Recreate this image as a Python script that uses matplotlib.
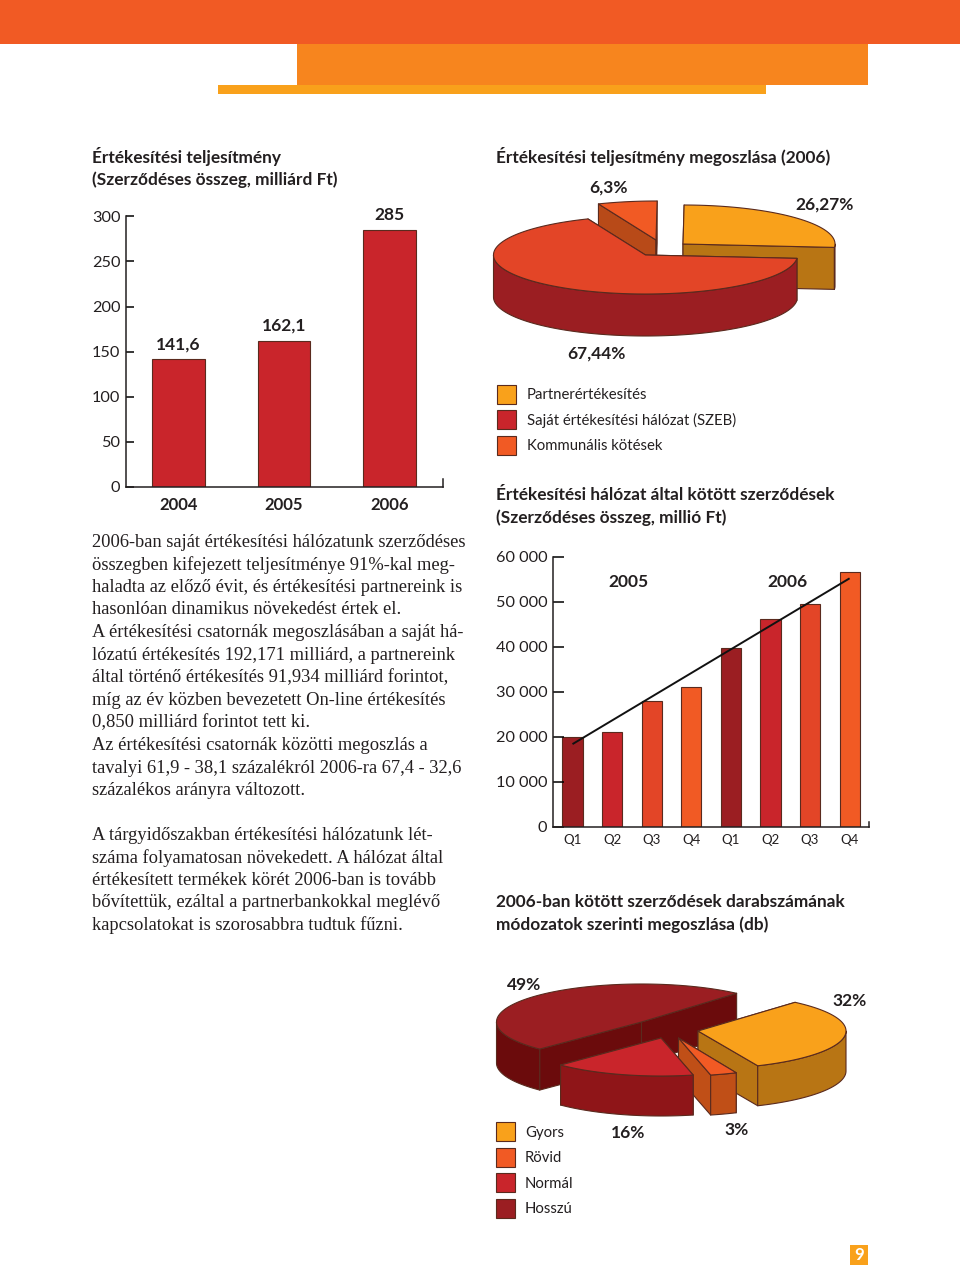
import numpy as np
import matplotlib
matplotlib.use("Agg")
import matplotlib.pyplot as plt
from matplotlib.patches import Polygon, Rectangle

W, H = 960, 1270
DARK = "#231f20"
EDGE = "#5a2a1e"
ORANGE_RED = "#f15a24"
RED_ORANGE = "#e34527"
RED = "#c9252b"
MAROON = "#9b1e22"
AMBER = "#f9a11b"

# sales chart
sales_years = ["2004", "2005", "2006"]
sales_values = [141.6, 162.1, 285]
sales_labels = ["141,6", "162,1", "285"]
sales_ticks = [0, 50, 100, 150, 200, 250, 300]

# contracts chart
quarters = ["Q1", "Q2", "Q3", "Q4", "Q1", "Q2", "Q3", "Q4"]
contract_values = [20000, 21100, 27900, 31100, 39800, 46200, 49600, 56700]
contract_trend = [18400, 55200]
contract_ticks = [0, 10000, 20000, 30000, 40000, 50000, 60000]
contract_tick_labels = ["0", "10 000", "20 000", "30 000", "40 000", "50 000", "60 000"]

# first pie
split_names = ["Partnerértékesítés", "Saját értékesítési hálózat (SZEB)", "Kommunális kötések"]
split_shares = [26.27, 6.3, 67.44]
split_labels = ["26,27%", "6,3%", "67,44%"]

# second pie
type_names = ["Gyors", "Rövid", "Normál", "Hosszú"]
type_shares = [49, 16, 3, 32]
type_labels = ["49%", "16%", "3%", "32%"]

left_text = [
    (541, "2006-ban saját értékesítési hálózatunk szerződéses"),
    (563.5, "összegben kifejezett teljesítménye 91%-kal meg-"),
    (586, "haladta az előző évit, és értékesítési partnereink is"),
    (608, "hasonlóan dinamikus növekedést értek el."),
    (631, "A értékesítési csatornák megoszlásában a saját há-"),
    (653.5, "lózatú értékesítés 192,171 milliárd, a partnereink"),
    (676, "által történő értékesítés 91,934 milliárd forintot,"),
    (699, "míg az év közben bevezetett On-line értékesítés"),
    (721, "0,850 milliárd forintot tett ki."),
    (744, "Az értékesítési csatornák közötti megoszlás a"),
    (767, "tavalyi 61,9 - 38,1 százalékról 2006-ra 67,4 - 32,6"),
    (789, "százalékos arányra változott."),
    (834, "A tárgyidőszakban értékesítési hálózatunk lét-"),
    (857, "száma folyamatosan növekedett. A hálózat által"),
    (879, "értékesített termékek körét 2006-ban is tovább"),
    (901, "bővítettük, ezáltal a partnerbankokkal meglévő"),
    (924, "kapcsolatokat is szorosabbra tudtuk fűzni."),
]

headings = [
    (92, 157, "Értékesítési teljesítmény"),
    (92, 180, "(Szerződéses összeg, milliárd Ft)"),
    (496, 157, "Értékesítési teljesítmény megoszlása (2006)"),
    (496, 495, "Értékesítési hálózat által kötött szerződések"),
    (496, 518, "(Szerződéses összeg, millió Ft)"),
    (496, 902, "2006-ban kötött szerződések darabszámának"),
    (496, 925, "módozatok szerinti megoszlása (db)"),
]

plt.rcParams["font.family"] = ["Lato", "DejaVu Sans"]
fig = plt.figure(figsize=(W / 100, H / 100), dpi=100)
page = fig.add_axes([0, 0, 1, 1])
page.set_xlim(0, W)
page.set_ylim(H, 0)
page.axis("off")


def px_axes(x0, y0, x1, y1):
    ax = fig.add_axes([x0 / W, 1 - y1 / H, (x1 - x0) / W, (y1 - y0) / H])
    ax.patch.set_alpha(0)
    ax.spines["top"].set_visible(False)
    for side in ["left", "bottom", "right"]:
        ax.spines[side].set_color(DARK)
        ax.spines[side].set_linewidth(1.1)
    return ax


def arc(apex, rx, ry, t0, t1, drop=0):
    t = np.radians(np.linspace(t0, t1, max(int(abs(t1 - t0)), 2) + 1))
    return np.column_stack([apex[0] + rx * np.cos(t), apex[1] - ry * np.sin(t) + drop])


def slice_3d(apex, t0, share, top, wall, rx=152, ry=39, depth=42):
    t1 = t0 + share * 3.6
    style = dict(edgecolor=EDGE, linewidth=0.8, joinstyle="round")
    for t in (t1, t0):
        rim = arc(apex, rx, ry, t, t, 0)[0]
        quad = [apex, rim, (rim[0], rim[1] + depth), (apex[0], apex[1] + depth)]
        page.add_patch(Polygon(quad, facecolor=wall, **style))
    for k in (-1, 0, 1):
        lo, hi = max(t0, 180 + 360 * k), min(t1, 360 + 360 * k)
        if hi > lo:
            pts = np.vstack([arc(apex, rx, ry, lo, hi), arc(apex, rx, ry, hi, lo, depth)])
            page.add_patch(Polygon(pts, facecolor=wall, **style))
    face = np.vstack([[apex], arc(apex, rx, ry, t0, t1)])
    page.add_patch(Polygon(face, facecolor=top, **style))
    return t1


def legend(names, colors, x, box_x, ys):
    for name, color, y in zip(names, colors, ys):
        page.add_patch(Rectangle((box_x, y - 9.5), 19, 19, facecolor=color, edgecolor=EDGE, linewidth=0.8))
        page.text(x, y + 1, name, fontsize=10.7, color=DARK, va="center", ha="left")


def pie_label(x, y, text):
    page.text(x, y + 1, text, fontweight="bold", fontsize=12.5, color=DARK, ha="center", va="center")


# top bands and page number
page.add_patch(Rectangle((0, 0), W, 44, color=ORANGE_RED, lw=0))
page.add_patch(Rectangle((297, 44), 571, 41, color="#f7851e", lw=0))
page.add_patch(Rectangle((218, 85), 548, 9, color=AMBER, lw=0))
page.add_patch(Rectangle((850, 1245), 18, 20, color=AMBER, lw=0))
page.text(859, 1255, "9", color="white", fontsize=12, fontweight="bold", ha="center", va="center")

for x, y, line in headings:
    page.text(x, y, line, fontsize=12.4, fontweight="bold", color=DARK, va="center", ha="left")
for y, line in left_text:
    page.text(92, y + 1.5, line, family="Liberation Serif", fontsize=13.3, color=DARK, va="center", ha="left")

# sales bars
ax1 = px_axes(126, 216.3, 442.7, 487)
ax1.bar(range(3), sales_values, width=0.5, color=RED, edgecolor=EDGE, linewidth=0.8)
ax1.set_xlim(-0.498, 2.504)
ax1.set_ylim(0, 300)
ax1.set_xticks(range(3), sales_years, fontweight="bold", fontsize=12, color=DARK)
ax1.set_yticks(sales_ticks)
ax1.tick_params(axis="x", length=0, pad=7.5)
ax1.tick_params(axis="y", direction="in", length=6, width=1.1, pad=4, labelsize=11.7, labelcolor=DARK)
ax1.spines["right"].set_bounds(0, 9)
for i, (v, lab) in enumerate(zip(sales_values, sales_labels)):
    ax1.annotate(lab, (i, v), xytext=(0, 15), textcoords="offset pixels", ha="center", va="center",
                 fontweight="bold", fontsize=12.5, color=DARK)

# contracts bars
ax2 = px_axes(552.7, 556.7, 869, 827)
bar_colors = [MAROON, RED, RED_ORANGE, ORANGE_RED] * 2
ax2.bar(range(8), contract_values, width=0.51, color=bar_colors, edgecolor=EDGE, linewidth=0.8)
ax2.plot([0, 7], contract_trend, color="#111111", linewidth=1.4, solid_capstyle="butt")
ax2.set_xlim(-0.5, 7.49)
ax2.set_ylim(0, 60000)
ax2.set_xticks(range(8), quarters, fontsize=9.5, color=DARK)
ax2.set_yticks(contract_ticks, contract_tick_labels)
ax2.tick_params(axis="x", length=0, pad=5)
ax2.tick_params(axis="y", direction="in", length=8, width=1.1, pad=4, labelsize=11.7, labelcolor=DARK)
ax2.spines["right"].set_bounds(0, 1100)
ax2.text(1.42, 54400, "2005", fontweight="bold", fontsize=12.5, color=DARK, ha="center", va="center")
ax2.text(5.44, 54400, "2006", fontweight="bold", fontsize=12.5, color=DARK, ha="center", va="center")

# split pie
a = slice_3d((683, 244), -5, split_shares[0], AMBER, "#b87514")
b = slice_3d((656, 240), a, split_shares[1], ORANGE_RED, "#b84a18")
slice_3d((645.5, 255), b, split_shares[2], RED_ORANGE, MAROON)
pie_label(825, 204, split_labels[0])
pie_label(608, 187, split_labels[1])
pie_label(596, 353, split_labels[2])
legend(split_names, [AMBER, RED, ORANGE_RED], 527, 497, [394, 419, 445])

# contract type pie, drawn back to front
t_long = 49
t_normal = t_long + type_shares[0] * 3.6
t_short = t_normal + type_shares[1] * 3.6
t_fast = t_short + type_shares[2] * 3.6
slice_3d((641.5, 1022), t_long, type_shares[0], MAROON, "#6b0b0c", rx=145, ry=38, depth=41)
slice_3d((698, 1031), t_fast, type_shares[3], AMBER, "#b87514", rx=148, ry=38, depth=40)
slice_3d((678.5, 1038), t_short, type_shares[2], ORANGE_RED, "#c04f17", rx=143, ry=38, depth=40)
slice_3d((661, 1038), t_normal, type_shares[1], RED, "#8f1518", rx=143, ry=38, depth=40)
pie_label(524, 984, type_labels[0])
pie_label(628, 1132, type_labels[1])
pie_label(737, 1129, type_labels[2])
pie_label(850, 1000, type_labels[3])
legend(type_names, [AMBER, ORANGE_RED, RED, MAROON], 525, 495.5, [1131.5, 1157, 1182.5, 1208])

fig.savefig("out.png", dpi=100)
